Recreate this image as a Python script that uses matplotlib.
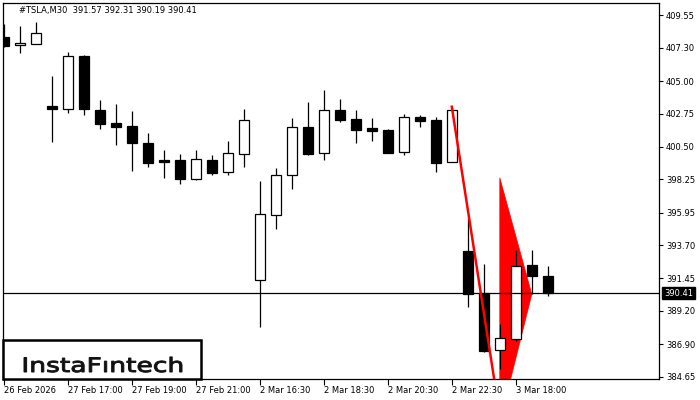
import matplotlib
matplotlib.use("Agg")
import matplotlib.pyplot as plt
from matplotlib.patches import Rectangle, PathPatch, Polygon
from matplotlib.textpath import TextPath
from matplotlib.font_manager import FontProperties
import matplotlib.transforms as mtransforms

# --- data (M30 candles) ---
opens = [408.04, 407.46, 407.53, 403.27, 403.06, 406.73, 403.03, 402.12, 401.91, 400.74,
         399.57, 399.57, 398.28, 399.57, 398.72, 399.96, 391.29, 395.76, 398.52, 401.82,
         400.03, 402.99, 402.37, 401.77, 401.64, 400.10, 402.53, 402.32, 399.41, 393.31,
         390.44, 386.47, 387.27, 392.34, 391.57]
highs = [408.93, 408.79, 409.07, 405.35, 407.00, 406.82, 403.70, 403.42, 402.96, 401.43,
         400.26, 399.98, 400.26, 399.91, 400.88, 403.08, 398.13, 399.02, 402.46, 403.56,
         404.39, 403.77, 403.01, 402.46, 401.70, 402.74, 402.67, 402.53, 403.24, 395.60,
         392.41, 388.28, 393.38, 393.38, 392.31]
lows = [407.35, 406.96, 407.53, 400.83, 402.83, 402.65, 401.68, 400.62, 398.83, 399.11,
        398.35, 397.94, 398.22, 398.56, 398.56, 399.11, 388.06, 394.84, 397.55, 399.94,
        399.59, 402.21, 400.76, 400.90, 400.07, 399.94, 401.86, 398.77, 399.41, 389.47,
        386.34, 385.17, 387.13, 390.33, 390.19]
closes = [407.42, 407.60, 408.29, 403.10, 406.73, 403.06, 402.07, 401.86, 400.71, 399.39,
          399.45, 398.28, 399.64, 398.70, 400.05, 402.30, 395.83, 398.52, 401.82, 400.00,
          402.99, 402.34, 401.66, 401.59, 400.07, 402.51, 402.28, 399.39, 402.99, 390.37,
          386.45, 387.30, 392.30, 391.61, 390.41]

price_ticks = [409.55, 407.30, 405.00, 402.75, 400.50, 398.25, 395.95, 393.70,
               391.45, 389.20, 386.90, 384.65]
time_idx = [0, 4, 8, 12, 16, 20, 24, 28, 32]
time_labels = ["26 Feb 2026", "27 Feb 17:00", "27 Feb 19:00", "27 Feb 21:00",
               "2 Mar 16:30", "2 Mar 18:30", "2 Mar 20:30", "2 Mar 22:30", "3 Mar 18:00"]

last_price = 390.41
title = "#TSLA,M30  391.57 392.31 390.19 390.41"

# pennant pattern: pole and flag triangle
pole_x = [28, 31]
pole_y = [403.24, 382.0]
flag_x = [31, 33, 31]
flag_y = [398.35, 390.33, 381.5]

plt.rcParams['font.family'] = ['DejaVu Sans']

fig = plt.figure(figsize=(7, 4), dpi=100)
ax = fig.add_axes([3 / 700, 21 / 400, 656 / 700, 376 / 400])

# flag (behind candles)
ax.add_patch(Polygon(list(zip(flag_x, flag_y)), closed=True, facecolor='#ff0000',
                     edgecolor='#ff0000', linewidth=0.5, zorder=0.5))

x = list(range(len(opens)))
ax.vlines(x, lows, highs, color='black', linewidth=0.9, zorder=1)
for i in x:
    o, c = opens[i], closes[i]
    fc = 'black' if c < o else 'white'
    ax.bar(i, abs(c - o), bottom=min(o, c), width=0.66, facecolor=fc,
           edgecolor='black', linewidth=0.9, zorder=2)

# bid line
ax.axhline(last_price, color='black', linewidth=0.9, zorder=2.5)

# pole
ax.plot(pole_x, pole_y, color='#ff0000', linewidth=1.8, zorder=3)

ax.set_xlim(-0.05, 40.95)
ax.set_ylim(384.50, 410.38)

ax.yaxis.tick_right()
ax.set_yticks(price_ticks)
ax.set_yticklabels([f"{p:.2f}" for p in price_ticks])
ax.tick_params(axis='y', direction='out', length=3, width=0.8, pad=2, labelsize=6)
ax.set_xticks(time_idx)
ax.set_xticklabels(time_labels, ha='left')
ax.tick_params(axis='x', direction='out', length=4, width=0.8, pad=1, labelsize=6)
for sp in ax.spines.values():
    sp.set_linewidth(0.9)

# current price box on the axis
ax.text(1.0075, last_price, f"{last_price:.2f}", transform=ax.get_yaxis_transform(),
        fontsize=6, color='white', va='center', ha='left',
        bbox=dict(boxstyle='square,pad=0.2', facecolor='black', edgecolor='black'))

fig.text(19 / 700, 1 - 11 / 400, title, fontsize=6, va='center', ha='left', color='black')

# logo
fig.add_artist(Rectangle((3 / 700, 21 / 400), 198 / 700, 39 / 400, transform=fig.transFigure,
                         facecolor='white', edgecolor='black', linewidth=1.8, zorder=10))
tp = TextPath((0, 0), "InstaFıntech", size=1, prop=FontProperties(family='DejaVu Sans'))
ext = tp.get_extents()
sx = 158 / ext.width
sy = 14.5 / 0.73
tr = mtransforms.Affine2D().translate(-ext.x0, 0).scale(sx, sy).translate(24, 28)
fig.add_artist(PathPatch(tp, transform=tr, facecolor='#111111', edgecolor='#111111',
                         linewidth=0.7, zorder=11))

fig.savefig("out.png", dpi=100)
